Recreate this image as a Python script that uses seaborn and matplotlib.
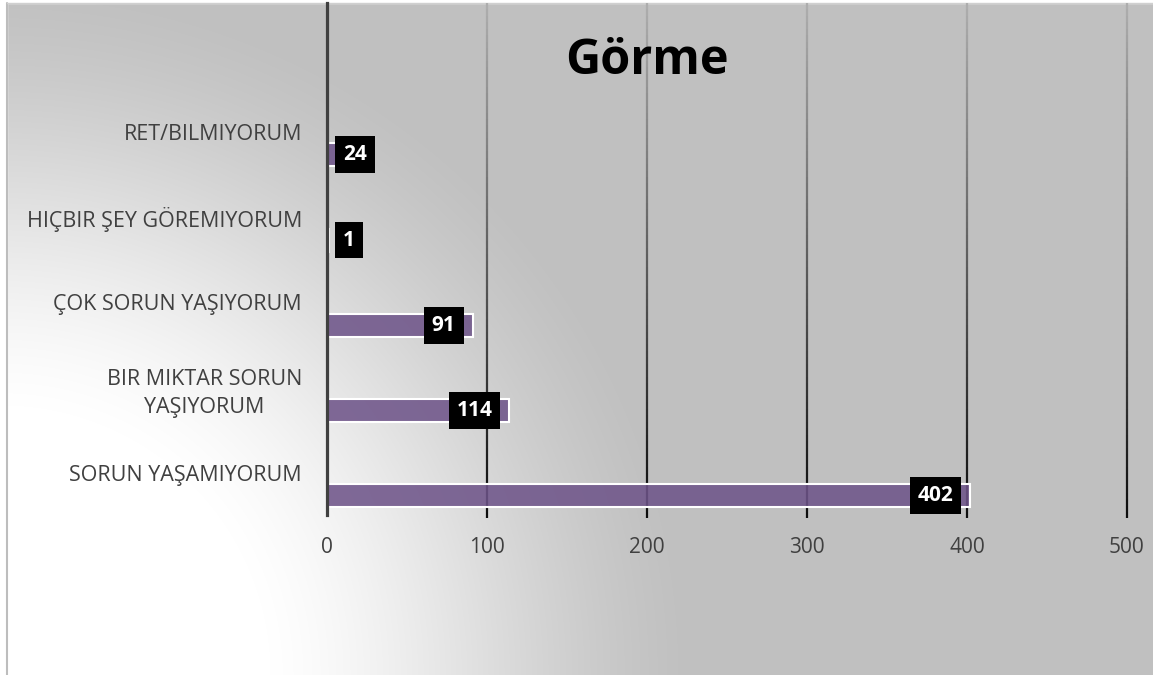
import numpy as np
import pandas as pd
import matplotlib
matplotlib.use("Agg")
import matplotlib.pyplot as plt
from matplotlib.patches import Rectangle
from matplotlib.collections import LineCollection
import seaborn as sns

# ---- data -------------------------------------------------------------
categories = [
    "RET/BILMIYORUM",
    "HIÇBIR ŞEY GÖREMIYORUM",
    "ÇOK SORUN YAŞIYORUM",
    "BIR MIKTAR SORUN\nYAŞIYORUM",
    "SORUN YAŞAMIYORUM",
]
counts = [24, 1, 91, 114, 402]
x_ticks = [0, 100, 200, 300, 400, 500]
chart_title = "Görme"

# ---- style ------------------------------------------------------------
sns.set_theme(style="white")
plt.rcParams["font.family"] = ["Open Sans", "DejaVu Sans"]

W, H = 1153, 675
fig = plt.figure(figsize=(W / 100, H / 100), dpi=100)

# radial gray background, lightest in the lower-left corner
bg = fig.add_axes([0, 0, 1, 1], zorder=-10)
yy, xx = np.mgrid[0:H, 0:W]
r = np.hypot(xx, H - yy)
t = np.clip((r - 270) / 420, 0, 1)
t = t * t * (3 - 2 * t) * 0.5 + t * 0.5
val = (255 - 63 * t) / 255
bg.imshow(np.dstack([val] * 3), extent=[0, W, H, 0], aspect="auto")
bg.add_patch(Rectangle((0, 0), W, 3, color="white"))
bg.add_patch(Rectangle((0, 0), 7, H, color="white"))
bg.plot([7, 7], [3, H], color="#bdbdbd", lw=1.5)
bg.plot([7, W], [3, 3], color="#d0d0d0", lw=1.0)
bg.set_xlim(0, W)
bg.set_ylim(H, 0)
bg.axis("off")

# ---- main axes ----------------------------------------------------------
ax = fig.add_axes([327 / W, 1 - 515 / H, (1127 - 327) / W, (515 - 3) / H])
ax.set_facecolor("none")

df = pd.DataFrame({"kategori": categories, "sayi": counts})
sns.barplot(data=df, y="kategori", x="sayi", orient="h", color="#6e5489",
            width=0.27, edgecolor="white", linewidth=1.5, ax=ax, zorder=2)
for p in ax.patches:
    p.set_facecolor((0x6e / 255, 0x54 / 255, 0x89 / 255, 0.87))

y_bottom, y_top = 4.229, -1.784
ax.set_xlim(0, 500)
ax.set_ylim(y_bottom, y_top)

# vertical gridlines shaded from light at the top to dark at the bottom
n_seg = 80
ys = np.linspace(y_top, y_bottom + 0.04, n_seg + 1)
shade = np.linspace(0.68, 0.05, n_seg)
for xt in x_ticks[1:]:
    segs = [[(xt, ys[i]), (xt, ys[i + 1])] for i in range(n_seg)]
    lc = LineCollection(segs, colors=[(s, s, s) for s in shade],
                        linewidths=1.6, zorder=1, clip_on=False)
    ax.add_collection(lc)

for side in ["top", "right", "bottom"]:
    ax.spines[side].set_visible(False)
ax.spines["left"].set_color("#404040")
ax.spines["left"].set_linewidth(2.3)
ax.spines["left"].set_zorder(4)

ax.set_xticks(x_ticks)
ax.set_yticks([i - 0.27 for i in range(len(categories))], categories)
for lbl in ax.get_yticklabels():
    lbl.set_multialignment("center")
    lbl.set_linespacing(1.45)
ax.tick_params(axis="x", length=0, pad=16, labelsize=15, labelcolor="#404040")
ax.tick_params(axis="y", length=0, pad=18, labelsize=15.5, labelcolor="#404040")
ax.set_xlabel("")
ax.set_ylabel("")
ax.grid(False)

fig.text(647 / W, 1 - 62 / H, chart_title, ha="center", va="center",
         fontsize=35, fontweight="bold", color="black")

# ---- value labels in black boxes at the bar ends -----------------------
fig.canvas.draw()
renderer = fig.canvas.get_renderer()
axis_px = ax.transData.transform((0, 0))[0]
fs = 15
pad = 0.38
pad_px = pad * fs * fig.dpi / 72
for i, v in enumerate(counts):
    txt = ax.text(0, i, str(v), ha="center", va="center", fontsize=fs,
                  fontweight="bold", color="white", zorder=5,
                  bbox=dict(boxstyle=f"square,pad={pad}", fc="black", ec="none"))
    tw = txt.get_window_extent(renderer).width
    box_w = tw + 2 * pad_px
    end_px = ax.transData.transform((v, i))[0]
    right = max(end_px - 9, axis_px + 8 + box_w)
    cx = right - box_w / 2
    cx_data = ax.transData.inverted().transform((cx, 0))[0]
    txt.set_x(cx_data)

fig.savefig("out.png", dpi=100)
